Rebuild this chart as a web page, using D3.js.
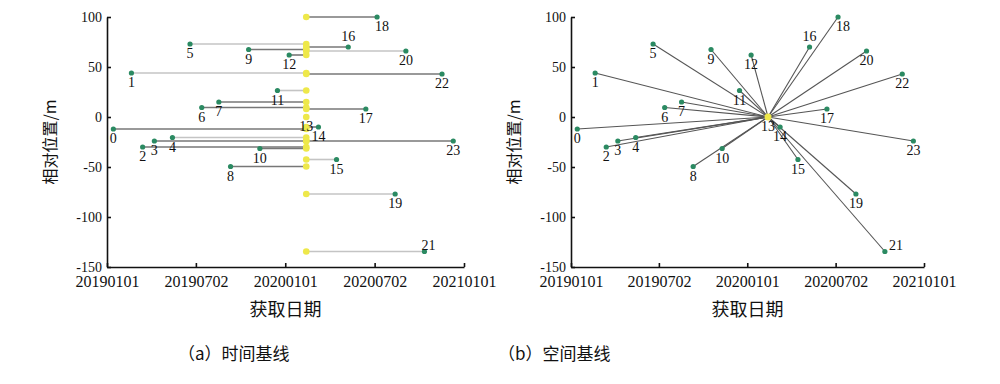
<!DOCTYPE html>
<html>
<head>
  <meta charset="utf-8">
  <script src="https://d3js.org/d3.v7.min.js"></script>
  <style>
    body { margin: 0; background: #fff; }
    text { fill: #111; }
  </style>
</head>
<body>
  <svg id="viz" width="1000" height="384"></svg>
  <script>
    // scene ids, acquisition dates, perpendicular baselines (m)
    var ids = [0, 1, 2, 3, 4, 5, 6, 7, 8, 9, 10, 11, 12, 13, 14, 15, 16, 17, 18, 19, 20, 21, 22, 23];
    var dates = ["2019-01-14", "2019-02-20", "2019-03-15", "2019-04-08", "2019-05-15", "2019-06-20",
      "2019-07-14", "2019-08-18", "2019-09-11", "2019-10-18", "2019-11-10", "2019-12-16",
      "2020-01-09", "2020-02-13", "2020-03-09", "2020-04-15", "2020-05-09", "2020-06-14",
      "2020-07-07", "2020-08-13", "2020-09-04", "2020-10-12", "2020-11-17", "2020-12-10"];
    var baselines = [-12, 44, -30, -24, -20.5, 73, 9.5, 15, -49.5, 67.5, -31.5, 26.5,
      62, 0, -10, -42.5, 70, 8, 100, -77, 66, -134.5, 43, -24];
    var masterId = 13;

    var xTickDates = ["2019-01-01", "2019-07-02", "2020-01-01", "2020-07-02", "2021-01-01"];
    var xTickLabels = ["20190101", "20190702", "20200101", "20200702", "20210101"];
    var yTicks = [100, 50, 0, -50, -100, -150];

    // lines drawn in a lighter grey in panel (a)
    var lightLines = [1, 4, 5, 11, 15, 19, 20, 21];

    var parse = d3.timeParse("%Y-%m-%d");
    var scenes = ids.map(function(id, i) {
      return { id: id, date: parse(dates[i]), b: baselines[i] };
    });
    var master = scenes[masterId];

    var svg = d3.select("#viz");
    var green = "#2b8a62", yellow = "#eee84a";
    var serif = "'Liberation Serif', 'Times New Roman', serif";
    var cjk = "'Noto Sans CJK SC', sans-serif";

    function panel(x0, x1, mode, caption, capX) {
      var x = d3.scaleTime()
        .domain([parse(xTickDates[0]), parse(xTickDates[4])])
        .range([x0, x1]);
      var y = d3.scaleLinear().domain([-150, 100]).range([267, 17]);
      var g = svg.append("g");

      // axes
      var xAxis = d3.axisBottom(x)
        .tickValues(xTickDates.map(parse))
        .tickFormat(function(d, i) { return xTickLabels[i]; })
        .tickSizeInner(-4).tickSizeOuter(0).tickPadding(9);
      var gx = g.append("g").attr("transform", "translate(0,267)").call(xAxis);
      gx.selectAll("text").style("font-family", serif).style("font-size", "16px").attr("fill", "#111");

      var yAxis = d3.axisLeft(y)
        .tickValues(yTicks)
        .tickFormat(function(d) { return d < 0 ? "-" + Math.abs(d) : d; })
        .tickSizeInner(-4).tickSizeOuter(0).tickPadding(5);
      var gy = g.append("g").attr("transform", "translate(" + x0 + ",0)").call(yAxis);
      gy.selectAll("text").style("font-family", serif).style("font-size", "14px").attr("fill", "#111");
      g.selectAll(".domain, .tick line").attr("stroke", "#111").attr("stroke-width", 1.6);

      var others = scenes.filter(function(s) { return s.id !== masterId; });

      if (mode === "time") {
        g.append("g").selectAll("line").data(others).enter().append("line")
          .attr("x1", function(d) { return x(d.date); })
          .attr("x2", x(master.date))
          .attr("y1", function(d) { return y(d.b); })
          .attr("y2", function(d) { return y(d.b); })
          .attr("stroke", function(d) { return lightLines.indexOf(d.id) >= 0 ? "#c4c4c4" : "#777"; })
          .attr("stroke-width", 1.6);
        g.append("g").selectAll("circle").data(scenes).enter().append("circle")
          .attr("cx", x(master.date))
          .attr("cy", function(d) { return y(d.b); })
          .attr("r", 3.3)
          .attr("fill", yellow);
      } else {
        g.append("g").selectAll("line").data(others).enter().append("line")
          .attr("x1", function(d) { return x(d.date); })
          .attr("x2", x(master.date))
          .attr("y1", function(d) { return y(d.b); })
          .attr("y2", y(master.b))
          .attr("stroke", "#555")
          .attr("stroke-width", 1.1);
        g.append("circle")
          .attr("cx", x(master.date)).attr("cy", y(master.b))
          .attr("r", 3.5).attr("fill", yellow);
      }

      g.append("g").selectAll("circle").data(others).enter().append("circle")
        .attr("cx", function(d) { return x(d.date); })
        .attr("cy", function(d) { return y(d.b); })
        .attr("r", 2.6)
        .attr("fill", green);

      // point labels
      g.append("g").selectAll("text").data(scenes).enter().append("text")
        .attr("x", function(d) {
          var px = x(d.date);
          if (d.id === 21) return px + (mode === "time" ? 4 : 4);
          if (d.id === 18) return px + 5;
          return px;
        })
        .attr("y", function(d) {
          var py = y(d.b);
          if (d.id === 16) return py - 6;
          if (d.id === 21) return py - 2;
          return py + 14;
        })
        .attr("text-anchor", function(d) { return d.id === 21 && mode !== "time" ? "start" : "middle"; })
        .style("font-family", serif)
        .style("font-size", "14px")
        .text(function(d) { return d.id; });

      // titles
      var cx = (x0 + x1) / 2;
      g.append("text")
        .attr("x", cx).attr("y", 316)
        .attr("text-anchor", "middle")
        .style("font-family", cjk).style("font-size", "18px")
        .text("获取日期");
      g.append("text")
        .attr("transform", "translate(" + (x0 - 51) + ",142) rotate(-90)")
        .attr("text-anchor", "middle")
        .style("font-family", cjk).style("font-size", "16px")
        .text("相对位置/m");
      g.append("text")
        .attr("x", capX).attr("y", 360)
        .style("font-family", cjk).style("font-size", "17px")
        .text(caption);
    }

    panel(107, 464, "time", "（a）时间基线", 178);
    panel(571, 924, "space", "（b）空间基线", 498);
  </script>
</body>
</html>
